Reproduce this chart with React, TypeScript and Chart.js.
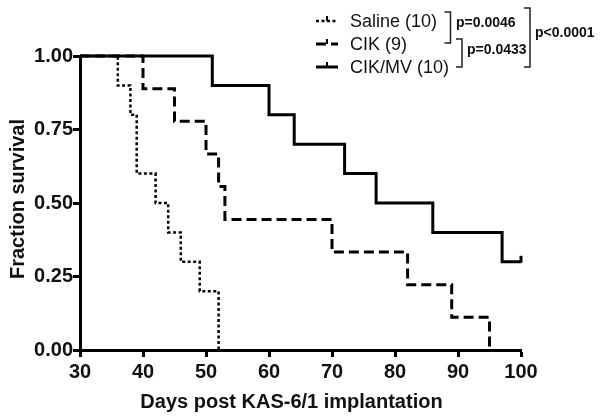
import React, { useEffect, useRef } from "react";
import { Chart, registerables } from "chart.js";

Chart.register(...registerables);

// ---- data ----
const xTickValues = [30, 40, 50, 60, 70, 80, 90, 100];
const yTickValues = [0, 0.25, 0.5, 0.75, 1];
const groupNames = ["Saline (10)", "CIK (9)", "CIK/MV (10)"];

const salineDays = [30, 36, 38, 39, 42, 44, 46, 49, 52];
const salineSurvival = [1, 0.9, 0.8, 0.6, 0.5, 0.4, 0.3, 0.2, 0];

const cikDays = [30, 40, 45, 50, 52, 53, 70, 82, 89, 95];
const cikSurvival = [1, 0.889, 0.778, 0.667, 0.556, 0.444, 0.333, 0.222, 0.111, 0];

const cikmvDays = [30, 51, 60, 64, 72, 77, 86, 97, 100];
const cikmvSurvival = [1, 0.9, 0.8, 0.7, 0.6, 0.5, 0.4, 0.3, 0.3];
const cikmvCensoredDays = [100];
const cikmvCensoredSurvival = [0.3];

const pValueLabels = ["p=0.0046", "p=0.0433", "p<0.0001"];

const xTitle = "Days post KAS-6/1 implantation";
const yTitle = "Fraction survival";

const FONT = "'Liberation Sans', Arial, sans-serif";
const DASHES = [[3, 2.5], [10, 5], []];
const WIDTHS = [2.5, 3, 3];

const toPoints = (xs: number[], ys: number[]) => xs.map((x, i) => ({ x, y: ys[i] }));

const annotationPlugin = {
  id: "kmAnnotations",
  afterDatasetsDraw(chart: any) {
    const ctx = chart.ctx as CanvasRenderingContext2D;
    const xs = chart.scales.x;
    const ys = chart.scales.y;
    const area = chart.chartArea;
    ctx.save();
    ctx.strokeStyle = "#000";
    ctx.lineWidth = 3;
    ctx.setLineDash([]);
    // censor marks
    cikmvCensoredDays.forEach((d, i) => {
      const px = xs.getPixelForValue(d);
      const py = ys.getPixelForValue(cikmvCensoredSurvival[i]);
      ctx.beginPath();
      ctx.moveTo(px, py + 1);
      ctx.lineTo(px, py - 6);
      ctx.stroke();
    });

    // axis titles
    ctx.fillStyle = "#111";
    ctx.font = `bold 20px ${FONT}`;
    ctx.textAlign = "center";
    ctx.textBaseline = "middle";
    ctx.fillText(xTitle, (area.left + area.right) / 2 - 9, 402);
    ctx.save();
    ctx.translate(18, (area.top + area.bottom) / 2 - 4);
    ctx.rotate(-Math.PI / 2);
    ctx.fillText(yTitle, 0, 0);
    ctx.restore();

    // legend
    const rowY = [21, 44, 67];
    groupNames.forEach((name, i) => {
      const y = rowY[i];
      ctx.lineWidth = WIDTHS[i];
      ctx.setLineDash(DASHES[i]);
      ctx.beginPath();
      ctx.moveTo(316, y);
      ctx.lineTo(338, y);
      ctx.stroke();
      ctx.setLineDash([]);
      ctx.lineWidth = 2;
      ctx.beginPath();
      ctx.moveTo(327, y);
      ctx.lineTo(327, y - 5);
      ctx.stroke();
      ctx.fillStyle = "#111";
      ctx.font = `18px ${FONT}`;
      ctx.textAlign = "left";
      ctx.textBaseline = "middle";
      ctx.fillText(name, 350, y + 1);
    });

    // brackets
    ctx.setLineDash([]);
    ctx.lineWidth = 1.5;
    ctx.strokeStyle = "#222";
    const bracket = (x: number, y1: number, y2: number, w: number) => {
      ctx.beginPath();
      ctx.moveTo(x - w, y1);
      ctx.lineTo(x, y1);
      ctx.lineTo(x, y2);
      ctx.lineTo(x - w, y2);
      ctx.stroke();
    };
    bracket(450.5, 12, 43, 6);
    bracket(462, 39, 67, 6);
    bracket(530, 8, 67, 6);
    ctx.fillStyle = "#111";
    ctx.font = `bold 14px ${FONT}`;
    ctx.textAlign = "left";
    ctx.textBaseline = "middle";
    ctx.fillText(pValueLabels[0], 456, 23);
    ctx.fillText(pValueLabels[1], 467, 50);
    ctx.fillText(pValueLabels[2], 535, 33);
    ctx.restore();
  },
};

export default function App() {
  const canvasRef = useRef<HTMLCanvasElement | null>(null);

  useEffect(() => {
    if (!canvasRef.current) return;
    const mk = (idx: number, days: number[], surv: number[], order: number) => ({
      label: groupNames[idx],
      data: toPoints(days, surv),
      borderColor: "#000",
      borderWidth: WIDTHS[idx],
      borderDash: DASHES[idx],
      stepped: "before" as const,
      pointRadius: 0,
      fill: false,
      clip: false as const,
      order,
    });
    const chart = new Chart(canvasRef.current, {
      type: "line",
      data: {
        datasets: [
          mk(2, cikmvDays, cikmvSurvival, 0),
          mk(1, cikDays, cikSurvival, 1),
          mk(0, salineDays, salineSurvival, 2),
        ],
      },
      options: {
        animation: false,
        responsive: false,
        maintainAspectRatio: false,
        layout: { padding: { top: 56, right: 81, bottom: 0, left: 0 } },
        plugins: {
          legend: { display: false },
          tooltip: { enabled: false },
          title: { display: false },
        },
        scales: {
          x: {
            type: "linear",
            min: 30,
            max: 100,
            afterFit: (s: any) => {
              s.height = 68;
            },
            afterBuildTicks: (s: any) => {
              s.ticks = xTickValues.map((v) => ({ value: v }));
            },
            border: { display: true, width: 3, color: "#000" },
            grid: {
              drawOnChartArea: false,
              drawTicks: true,
              tickLength: 7,
              tickWidth: 3,
              tickColor: "#000",
              color: "#000",
            },
            ticks: {
              color: "#111",
              padding: 3,
              font: { family: FONT, size: 20, weight: "bold" },
              callback: (v: any) => String(v),
            },
          },
          y: {
            type: "linear",
            min: 0,
            max: 1,
            afterFit: (s: any) => {
              s.width = 80;
            },
            afterBuildTicks: (s: any) => {
              s.ticks = yTickValues.map((v) => ({ value: v }));
            },
            border: { display: true, width: 3, color: "#000" },
            grid: {
              drawOnChartArea: false,
              drawTicks: true,
              tickLength: 7,
              tickWidth: 3,
              tickColor: "#000",
              color: "#000",
            },
            ticks: {
              color: "#111",
              padding: 0,
              font: { family: FONT, size: 20, weight: "bold" },
              callback: (v: any) => Number(v).toFixed(2),
            },
          },
        },
      },
      plugins: [annotationPlugin],
    });
    return () => chart.destroy();
  }, []);

  return (
    <div style={{ position: "fixed", left: 0, top: 0, width: 602, height: 418, background: "#fff" }}>
      <canvas ref={canvasRef} width={602} height={418} style={{ width: 602, height: 418 }} />
    </div>
  );
}
